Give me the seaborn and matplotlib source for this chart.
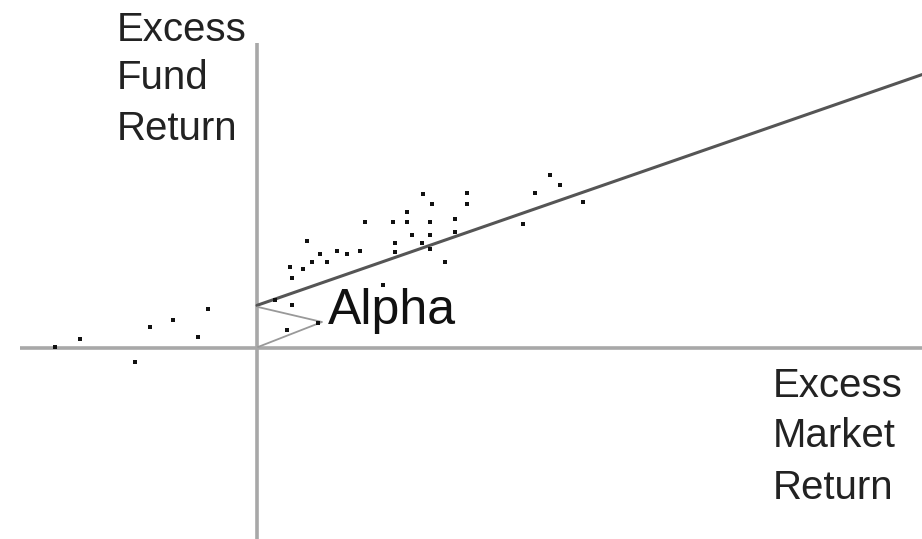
import matplotlib
matplotlib.use("Agg")
import matplotlib.pyplot as plt
import seaborn as sns
import pandas as pd
import numpy as np

# ---- data (excess market return, excess fund return) ----
market_excess = [292, 302, 277, 209, 165, 174, 209, 325, 149, 107, 135, 149, 172, 197, 265,
                 154, 172, 197, 49, 137, 164, 172, 62, 79, 89, 102, 137, 54, 69, 187,
                 32, 45, 34, 125, 17, 34, 60, 29, -203, -178, -108, -85, -50, -60, -123]
fund_excess = [172, 162, 154, 154, 153, 143, 143, 145, 135, 125, 125, 125, 125, 128, 123,
               112, 112, 115, 106, 104, 104, 98, 93, 96, 93, 96, 95, 85, 85, 85,
               80, 78, 69, 62, 47, 42, 24, 17, 0, 8, 20, 27, 38, 10, -15]

alpha = 42.0      # intercept of the characteristic line
beta = 0.347      # slope of the characteristic line
fit_range = [-1, 664]

y_label_lines = ["Excess", "Fund", "Return"]
x_label_lines = ["Excess", "Market", "Return"]
alpha_label = "Alpha"

# ---- figure ----
sns.set_theme(style="white")
plt.rcParams["font.family"] = ["Liberation Sans", "DejaVu Sans"]

fig = plt.figure(figsize=(9.22, 5.39), dpi=100)
ax = fig.add_axes([0, 0, 1, 1])
ax.set_xlim(-258, 664)
ax.set_ylim(-192, 347)
ax.axis("off")

# coordinate axes through origin
ax.plot([-238, 664], [-1, -1], color="#a8a8a8", lw=2.6, solid_capstyle="butt", zorder=1)
ax.plot([-1, -1], [304, -192], color="#a8a8a8", lw=2.6, solid_capstyle="butt", zorder=1)

# characteristic (regression) line
fit_df = pd.DataFrame({"x": fit_range,
                       "y": [alpha + beta * v for v in fit_range]})
sns.lineplot(data=fit_df, x="x", y="y", ax=ax, color="#555555", lw=2.2, zorder=2)

# alpha bracket
tip_x, tip_y = 64, 25
ax.plot([0, tip_x, 0], [alpha - 2, tip_y, 0], color="#999999", lw=1.3, zorder=2)

# scatter points
df = pd.DataFrame({"market": market_excess, "fund": fund_excess})
sns.scatterplot(data=df, x="market", y="fund", ax=ax, marker="s", s=7,
                color="#111111", linewidth=0, zorder=3)

# labels
fs = 29
for txt, yb in zip(y_label_lines, [306, 258, 207]):
    ax.text(-141, yb, txt, fontsize=fs, color="#222222", ha="left", va="baseline")
for txt, yb in zip(x_label_lines, [-50, -100, -152]):
    ax.text(515, yb, txt, fontsize=fs, color="#222222", ha="left", va="baseline")
ax.text(70, 23, alpha_label, fontsize=36, color="#111111", ha="left", va="baseline")

ax.set_xlabel("")
ax.set_ylabel("")
fig.savefig("out.png", dpi=100)
